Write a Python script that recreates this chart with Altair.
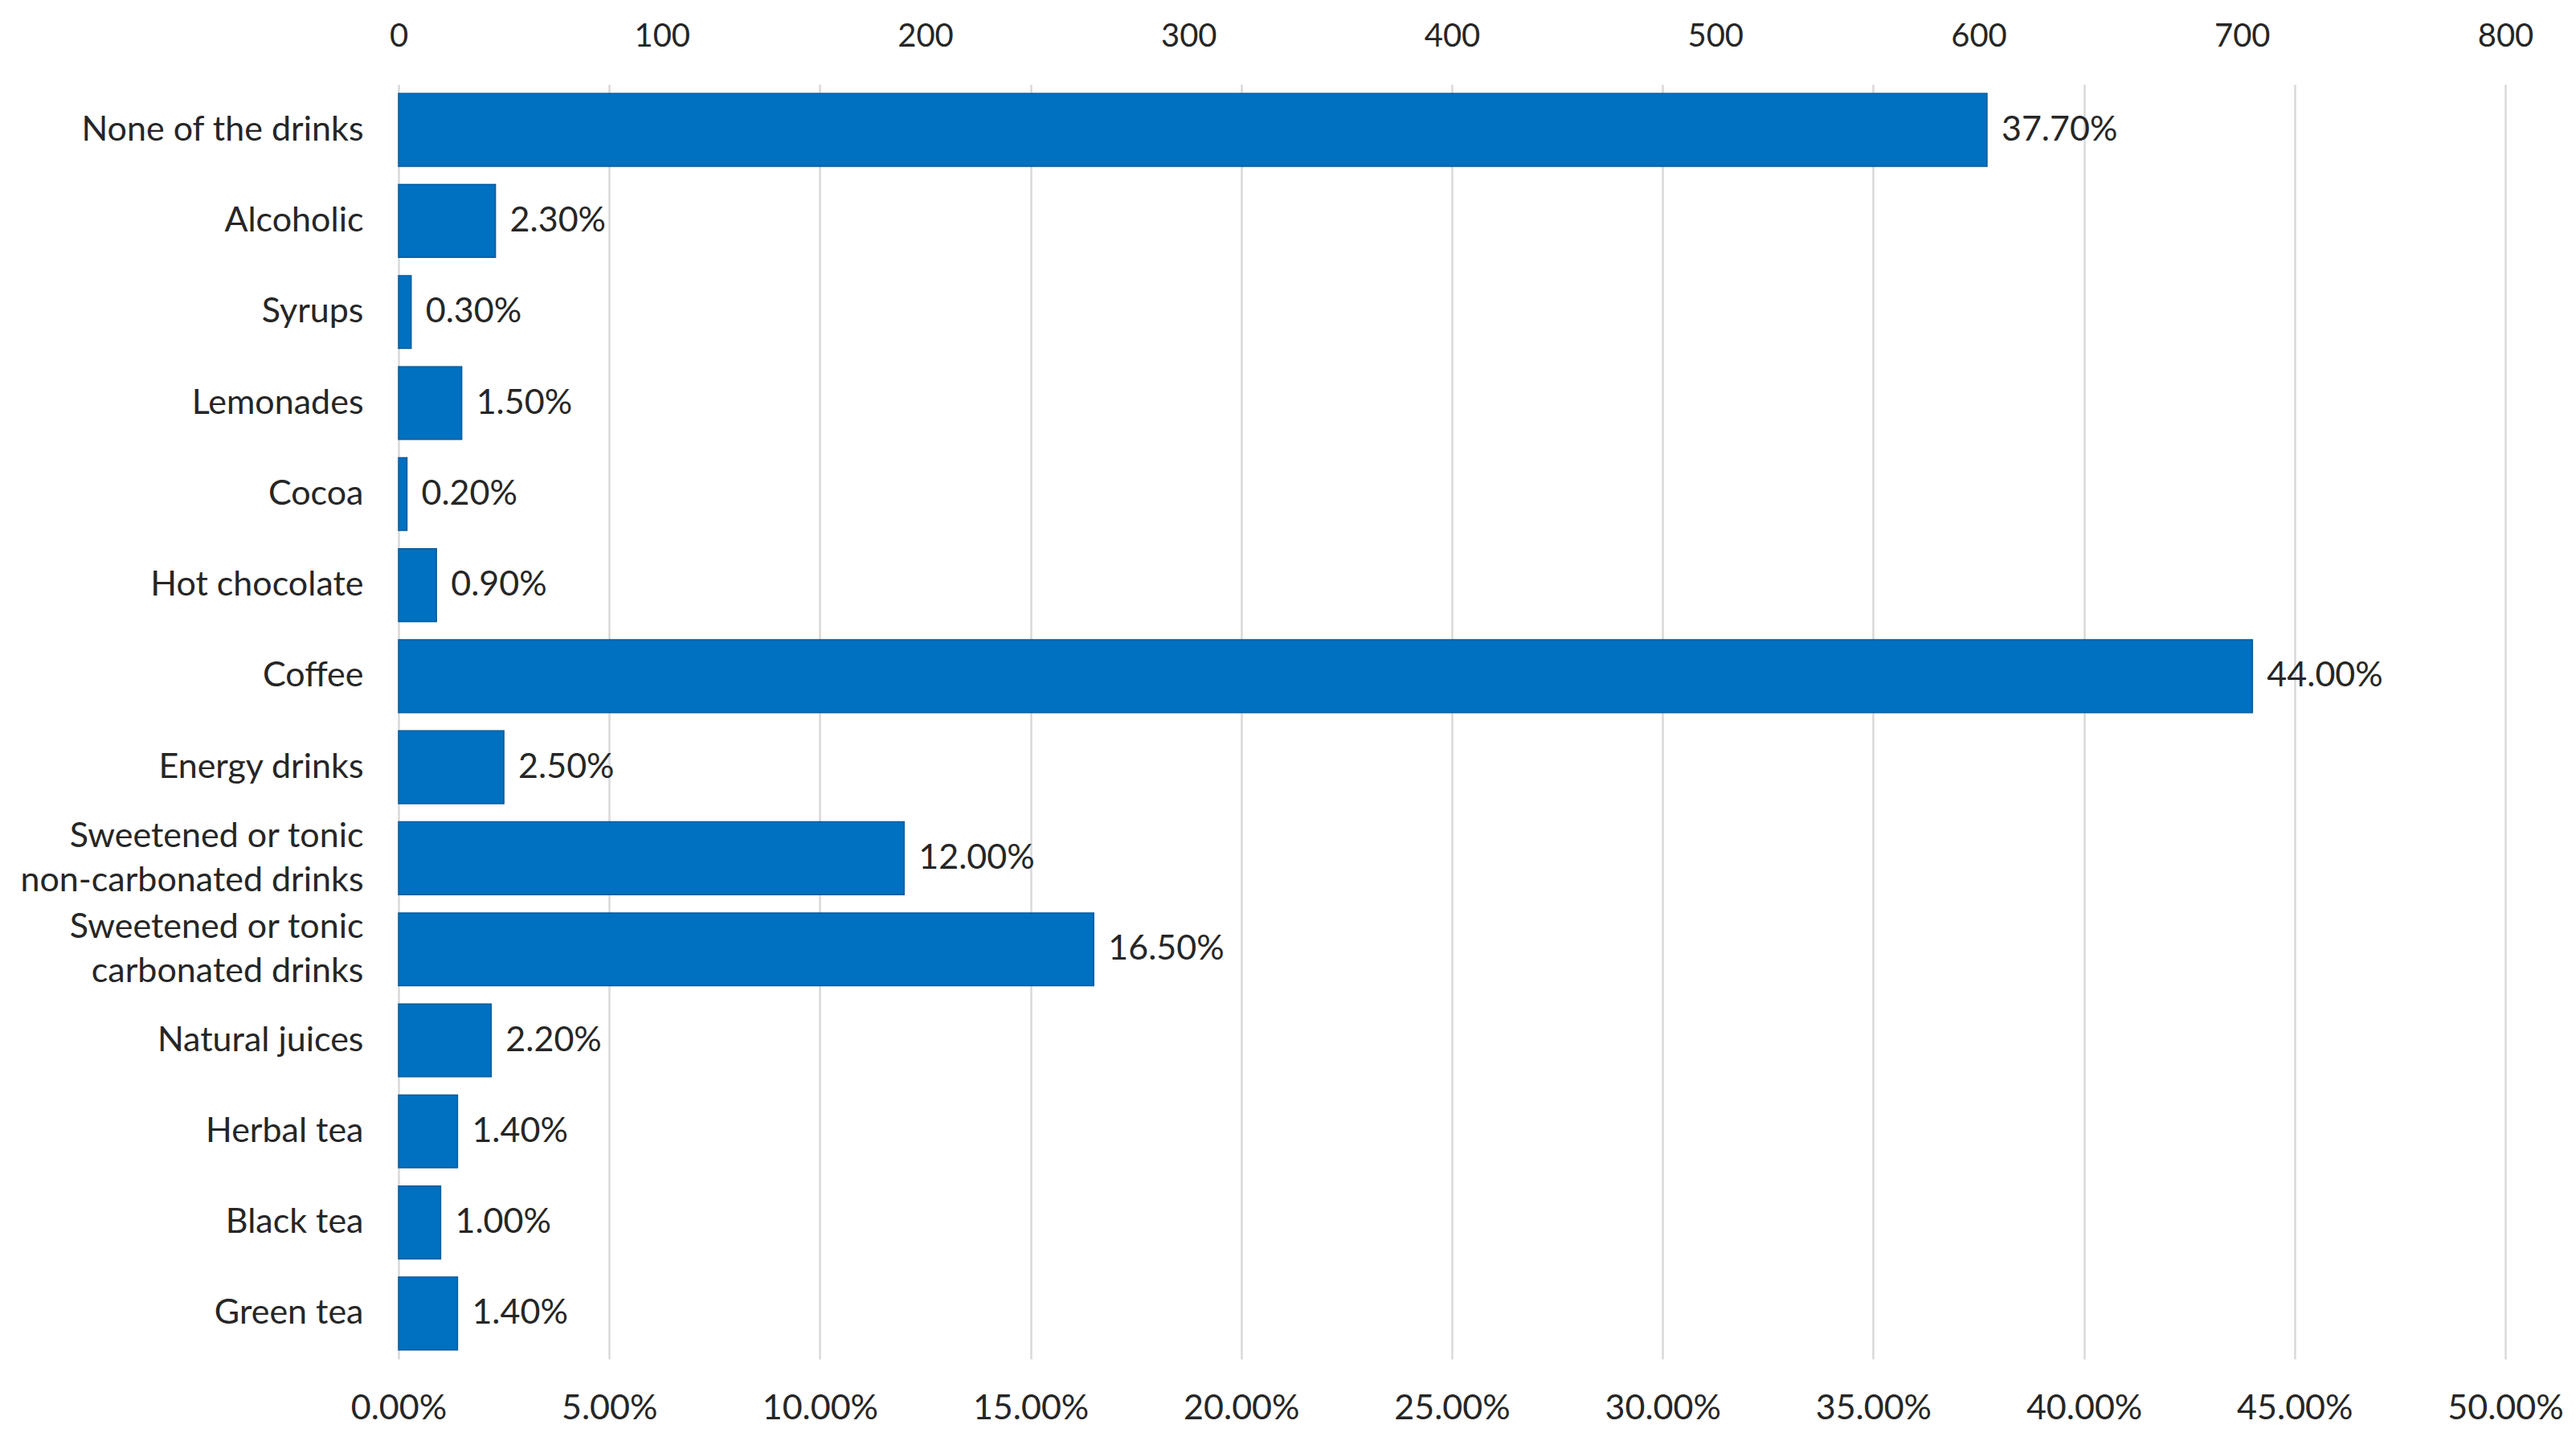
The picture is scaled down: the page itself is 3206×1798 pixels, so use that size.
import altair as alt
import pandas as pd

categories = [
    "None of the drinks", "Alcoholic", "Syrups", "Lemonades", "Cocoa",
    "Hot chocolate", "Coffee", "Energy drinks",
    "Sweetened or tonic\nnon-carbonated drinks",
    "Sweetened or tonic\ncarbonated drinks",
    "Natural juices", "Herbal tea", "Black tea", "Green tea",
]
percent = [37.70, 2.30, 0.30, 1.50, 0.20, 0.90, 44.00, 2.50, 12.00, 16.50,
           2.20, 1.40, 1.00, 1.40]
count_ticks = [0, 100, 200, 300, 400, 500, 600, 700, 800]
pct_ticks = [0, 5, 10, 15, 20, 25, 30, 35, 40, 45, 50]

df = pd.DataFrame({"cat": categories, "pct": [p / 100 for p in percent]})
df_top = pd.DataFrame({"n": count_ticks})

FONT = "Lato"
TXT = "#262626"
BLUE = "#0070C0"
FS = 43

y_enc = alt.Y(
    "cat:N", sort=categories, title=None,
    scale=alt.Scale(paddingInner=0.2, paddingOuter=0.1),
    axis=alt.Axis(
        labelExpr="split(datum.label, '\\n')", labelFont=FONT, labelFontSize=FS,
        labelColor=TXT, labelPadding=44, labelLimit=700, labelLineHeight=55,
        labelOffset={"condition": {"test": "indexof(datum.label, '\\n') >= 0", "value": -27},
                     "value": 0},
        ticks=False, domain=False, grid=False, minExtent=488, maxExtent=488,
    ),
)

pct_scale = alt.Scale(domain=[0, 0.5], nice=False, zero=True)

x_pct = alt.X(
    "pct:Q", title=None, scale=pct_scale,
    axis=alt.Axis(
        orient="bottom", values=[v / 100 for v in pct_ticks], format=".2%",
        labelFont=FONT, labelFontSize=FS, labelColor=TXT, labelPadding=40,
        labelFlush=False,
        ticks=False, domain=False, grid=True, gridColor="#d9d9d9", gridWidth=2.5,
        minExtent=90, maxExtent=90,
    ),
)

bars = alt.Chart(df).mark_bar(color=BLUE, stroke="#0a5c9c", strokeWidth=1.5).encode(
    x=x_pct, y=y_enc
)

labels = alt.Chart(df).mark_text(
    align="left", baseline="middle", dx=18, font=FONT, fontSize=FS, color=TXT
).encode(
    x=x_pct,
    y=alt.Y("cat:N", sort=categories),
    text=alt.Text("pct:Q", format=".2%"),
)

main = alt.layer(bars, labels).resolve_scale(x="shared").resolve_axis(x="shared")

top = alt.Chart(df_top).mark_point(opacity=0).encode(
    x=alt.X(
        "n:Q", title=None,
        scale=alt.Scale(domain=[0, 800], nice=False),
        axis=alt.Axis(
            orient="top", values=count_ticks, format="d",
            labelFont=FONT, labelFontSize=40, labelColor=TXT, labelPadding=40,
            labelFlush=False,
            ticks=False, domain=False, grid=False, minExtent=90, maxExtent=90,
        ),
    )
)

chart = (
    alt.layer(main, top)
    .resolve_scale(x="independent")
    .properties(
        width=2622, height=1586,
        padding={"left": 0, "top": 7, "right": 0, "bottom": 0},
        background="white",
    )
    .configure_view(stroke=None)
)

chart.save("out.html", embed_options={"renderer": "svg", "actions": False})
